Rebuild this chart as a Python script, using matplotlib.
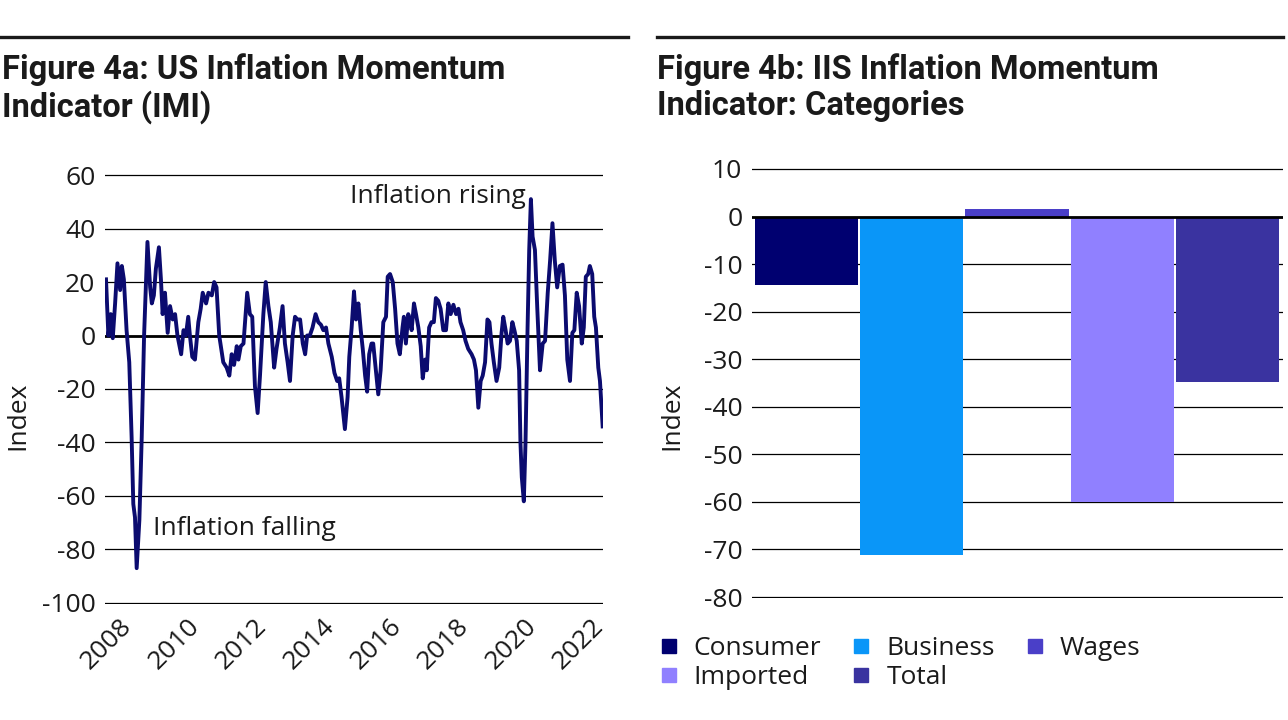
import matplotlib
matplotlib.use("Agg")
import matplotlib.pyplot as plt
from matplotlib.lines import Line2D

plt.rcParams['font.family'] = ['Open Sans', 'DejaVu Sans']
plt.rcParams['axes.unicode_minus'] = False

# Figure 4a: US IMI (decimal years, index values)
imi_years = [
    2007.97, 2008.04, 2008.11, 2008.17, 2008.24, 2008.31, 2008.39, 2008.44, 2008.50, 2008.58,
    2008.66, 2008.73, 2008.78, 2008.83, 2008.88, 2008.96, 2009.03, 2009.10, 2009.20, 2009.28,
    2009.33, 2009.39, 2009.45, 2009.54, 2009.60, 2009.65, 2009.72, 2009.80, 2009.87, 2009.95,
    2010.02, 2010.09, 2010.20, 2010.27, 2010.34, 2010.41, 2010.46, 2010.53, 2010.61, 2010.71,
    2010.78, 2010.84, 2010.94, 2011.01, 2011.11, 2011.18, 2011.25, 2011.33, 2011.45, 2011.55,
    2011.63, 2011.70, 2011.77, 2011.85, 2011.90, 2011.97, 2012.05, 2012.16, 2012.24, 2012.31,
    2012.39, 2012.47, 2012.54, 2012.64, 2012.71, 2012.79, 2012.86, 2012.96, 2013.03, 2013.13,
    2013.21, 2013.28, 2013.36, 2013.43, 2013.51, 2013.58, 2013.65, 2013.73, 2013.81, 2013.88,
    2013.94, 2014.02, 2014.10, 2014.19, 2014.27, 2014.35, 2014.42, 2014.50, 2014.57, 2014.67,
    2014.75, 2014.83, 2014.89, 2014.96, 2015.06, 2015.14, 2015.19, 2015.26, 2015.33, 2015.39,
    2015.46, 2015.53, 2015.59, 2015.66, 2015.72, 2015.78, 2015.85, 2015.90, 2015.97, 2016.05,
    2016.12, 2016.20, 2016.28, 2016.33, 2016.40, 2016.48, 2016.55, 2016.62, 2016.69, 2016.77,
    2016.81, 2016.87, 2016.94, 2016.99, 2017.04, 2017.11, 2017.17, 2017.24, 2017.31, 2017.37,
    2017.44, 2017.49, 2017.56, 2017.63, 2017.70, 2017.76, 2017.83, 2017.90, 2017.98, 2018.06,
    2018.13, 2018.20, 2018.28, 2018.36, 2018.43, 2018.49, 2018.57, 2018.64, 2018.72, 2018.82,
    2018.89, 2018.95, 2019.02, 2019.09, 2019.15, 2019.22, 2019.29, 2019.35, 2019.41, 2019.48,
    2019.56, 2019.64, 2019.71, 2019.76, 2019.83, 2019.89, 2019.96, 2020.03, 2020.09, 2020.16,
    2020.23, 2020.27, 2020.31, 2020.37, 2020.42, 2020.48, 2020.53, 2020.58, 2020.63, 2020.70,
    2020.77, 2020.85, 2020.93, 2021.00, 2021.08, 2021.15, 2021.22, 2021.29, 2021.36, 2021.44,
    2021.52, 2021.59, 2021.66, 2021.74, 2021.81, 2021.87, 2021.94, 2022.01, 2022.09, 2022.15,
    2022.21, 2022.28, 2022.33, 2022.40, 2022.46, 2022.51, 2022.58, 2022.63, 2022.71,
]
imi_values = [
    21, 0, 8, -1, 12, 27, 17, 26, 21, 2,
    -10, -38, -63, -68, -87, -69, -38, 0, 35, 18,
    12, 15, 25, 33, 21, 8, 16, 1, 11, 6,
    8, 0, -7, 2, 0, 7, 0, -8, -9, 5,
    10, 16, 12, 16, 15, 20, 18, 0, -10, -12,
    -15, -7, -11, -4, -9, -4, -3, 16, 8, 7,
    -19, -29, -15, 8, 20, 11, 5, -12, -5, 3,
    11, -3, -10, -17, 0, 7, 6, 6, -3, -7,
    0, 0, 3, 8, 5, 4, 2, 3, -3, -8,
    -14, -17, -16, -23, -35, -23, -8, 3, 16.5, 6,
    12, 2, -5, -15, -21, -7, -3, -3, -12, -22,
    -13, 5, 7, 22, 23, 20, 10, -3, -7, 3,
    7, -3, 8, 6, 2, 12, 8, 3, -4, -16,
    -9, -13, 3, 5, 5, 14, 13, 10, 2, 2,
    12, 8, 11.5, 8, 10, 5, 2, -2, -5, -7,
    -9, -13, -27, -17, -15, -10, 6, 5, -3, -10,
    -17, -12, 1, 7, 2, -3, -2, 5, 2, -2,
    -13, -40, -53, -62, -40, 2, 32, 51, 37, 32,
    10, -13, -3, -2, 16, 28, 42, 28, 18, 26,
    26.5, 15, -9, -17, 1, 2, 16, 11, -3, 3,
    22, 23, 26, 23, 7, 3, -12, -17, -34,
]
year_ticks = [2008, 2010, 2012, 2014, 2016, 2018, 2020, 2022]

# Figure 4b: categories
categories = ['Consumer', 'Business', 'Wages', 'Imported', 'Total']
cat_values = [-14.4, -71.2, 1.6, -60.0, -34.8]
cat_colors = ['#000070', '#0a96f8', '#4a3fc8', '#9080ff', '#3a33a0']

W, H = 1288, 720
fig = plt.figure(figsize=(W / 100, H / 100), dpi=100)

def fx(px):
    return px / W

def fy(py):
    return 1 - py / H

tick_fs = 19
txt = '#1a1a1a'
title_kw = dict(fontsize=23.5, fontweight='bold', family=['Roboto', 'DejaVu Sans'],
                va='top', ha='left', linespacing=1.15, color=txt)

# top rules
fig.add_artist(Line2D([fx(0), fx(628)], [fy(37), fy(37)], color=txt, lw=2.4))
fig.add_artist(Line2D([fx(657), fx(1283)], [fy(37), fy(37)], color=txt, lw=2.4))

fig.text(fx(2), fy(53), 'Figure 4a: US Inflation Momentum\nIndicator (IMI)', **title_kw)
fig.text(fx(657), fy(53), 'Figure 4b: IIS Inflation Momentum\nIndicator: Categories', **title_kw)

# ---- left: line chart
ax1 = fig.add_axes([fx(105), fy(604), fx(603 - 105), (604 - 174) / H])
ax1.plot(imi_years, imi_values, color='#0b0b6f', lw=2.8, zorder=3)
ax1.set_ylim(-100.4, 60.4)
ax1.set_xlim(2007.94, 2022.72)
ax1.set_yticks(range(-100, 61, 20))
ax1.set_xticks(year_ticks)
ax1.set_xticklabels([str(y) for y in year_ticks], rotation=45, ha='center')
ax1.grid(axis='y', color='black', lw=0.9)
ax1.axhline(0, color='black', lw=2, zorder=2)
ax1.tick_params(length=0, labelsize=tick_fs, pad=7, colors=txt)
for s in ax1.spines.values():
    s.set_visible(False)
ax1.text(2015.21, 51.8, 'Inflation rising', fontsize=tick_fs, va='center', ha='left', color=txt)
ax1.text(2009.37, -72.3, 'Inflation falling', fontsize=tick_fs, va='center', ha='left', color=txt)
fig.text(fx(18), fy(416), 'Index', rotation=90, fontsize=tick_fs, va='center', ha='center', color=txt)

# ---- right: bar chart
ax2 = fig.add_axes([fx(752), fy(598), fx(1283 - 752), (598 - 168) / H])
ax2.bar(range(len(categories)), cat_values, width=0.98, color=cat_colors, zorder=3)
ax2.set_ylim(-80.2, 10.2)
ax2.set_xlim(-0.518, 4.527)
ax2.set_yticks(range(-80, 11, 10))
ax2.set_xticks([])
ax2.grid(axis='y', color='black', lw=0.9, zorder=0)
ax2.axhline(0, color='black', lw=2, zorder=4)
ax2.tick_params(length=0, labelsize=tick_fs, pad=7, colors=txt)
for s in ax2.spines.values():
    s.set_visible(False)
fig.text(fx(672), fy(416), 'Index', rotation=90, fontsize=tick_fs, va='center', ha='center', color=txt)

# legend, row-wise order: Consumer Business Wages / Imported Total
order = [0, 3, 1, 4, 2]
handles = [Line2D([], [], ls='none', marker='s', markersize=9.5, color=cat_colors[i]) for i in order]
fig.legend(handles, [categories[i] for i in order], ncol=3, loc='upper left',
           bbox_to_anchor=(fx(658), fy(636)), frameon=False, fontsize=tick_fs,
           handlelength=0.8, handletextpad=0.55, columnspacing=1.12,
           labelspacing=0.17, borderaxespad=0, borderpad=0, labelcolor=txt)

fig.savefig('out.png', dpi=100, facecolor='white')
